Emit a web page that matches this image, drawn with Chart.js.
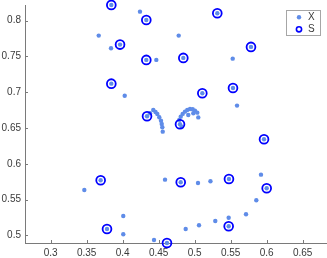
<!DOCTYPE html>
<html>
<head>
<meta charset="utf-8">
<script src="https://cdn.jsdelivr.net/npm/chart.js@4/dist/chart.umd.min.js"></script>
<style>
html,body{margin:0;padding:0;background:#fff;}
canvas{display:block;}
</style>
</head>
<body>
<canvas id="c" width="327" height="258"></canvas>
<script>
// Series "X": all points (x, y)
const xSeriesX = [
  0.3842,0.4328,0.5314,0.3963,0.4328,0.4842,0.5782,0.3842,0.5532,0.5106,
  0.4338,0.4796,0.5963,0.3694,0.4806,0.5476,0.6000,0.3782,0.5472,0.4615,
  0.3667,0.4240,0.3838,0.4778,0.4467,0.5528,0.4028,0.5588,0.5050,
  0.4379,0.4425,0.4456,0.4481,0.4508,0.4532,0.4542,0.4550,0.4556,
  0.4786,0.4806,0.4833,0.4865,0.4897,0.4935,0.4972,0.5004,0.5036,0.4981,0.4911,0.4819,
  0.4588,0.5046,0.5219,0.5921,0.3467,0.5856,0.5713,0.5472,0.5286,0.5060,0.4875,
  0.4008,0.4008,0.4435
];
const xSeriesY = [
  0.8220,0.8011,0.8105,0.7666,0.7452,0.7480,0.7634,0.7120,0.7060,0.6986,
  0.6664,0.6552,0.6343,0.5769,0.5741,0.5787,0.5657,0.5088,0.5126,0.4892,
  0.7792,0.8127,0.7615,0.7792,0.7452,0.7470,0.6952,0.6813,0.6648,
  0.6706,0.6752,0.6724,0.6696,0.6650,0.6603,0.6557,0.6510,0.6449,
  0.6613,0.6659,0.6697,0.6729,0.6752,0.6766,0.6762,0.6743,0.6715,0.6706,0.6682,0.6519,
  0.5778,0.5731,0.5755,0.5848,0.5634,0.5490,0.5294,0.5246,0.5200,0.5140,0.5088,
  0.5270,0.5014,0.4934
];
// Series "S": selected points
const sSeriesX = [
  0.3842,0.4328,0.5314,0.3963,0.4328,0.4842,0.5782,0.3842,0.5532,0.5106,
  0.4338,0.4796,0.5963,0.3694,0.4806,0.5476,0.6000,0.3782,0.5472,0.4615
];
const sSeriesY = [
  0.8220,0.8011,0.8105,0.7666,0.7452,0.7480,0.7634,0.7120,0.7060,0.6986,
  0.6664,0.6552,0.6343,0.5769,0.5741,0.5787,0.5657,0.5088,0.5126,0.4892
];
const xTicks = [0.3,0.35,0.4,0.45,0.5,0.55,0.6,0.65];
const yTicks = [0.5,0.55,0.6,0.65,0.7,0.75,0.8];
const legendLabels = ['X','S'];

const dotColor = 'rgb(95,140,232)';
const ringColor = '#0000ff';
const axisColor = '#7a7a7a';
const textColor = '#3a3a3a';
const fontFam = "'Liberation Sans', Arial, sans-serif";

const ptsX = xSeriesX.map((v,i)=>({x:v,y:xSeriesY[i]}));
const ptsS = sSeriesX.map((v,i)=>({x:v,y:sSeriesY[i]}));

const tickPlugin = {
  id:'inTicks',
  afterDraw(chart){
    const ctx = chart.ctx, xs = chart.scales.x, ys = chart.scales.y, a = chart.chartArea;
    ctx.save();
    ctx.strokeStyle = axisColor; ctx.lineWidth = 1;
    ctx.beginPath();
    xTicks.forEach(v=>{const p=Math.round(xs.getPixelForValue(v))+0.5; ctx.moveTo(p,a.bottom); ctx.lineTo(p,a.bottom-3);});
    yTicks.forEach(v=>{const p=Math.round(ys.getPixelForValue(v))+0.5; ctx.moveTo(a.left,p); ctx.lineTo(a.left+3,p);});
    ctx.stroke();
    // legend box
    const bx=286.5, by=10.5, bw=34, bh=25;
    ctx.fillStyle='#fff'; ctx.fillRect(bx,by,bw,bh);
    ctx.strokeStyle='#a6a6a6'; ctx.strokeRect(bx,by,bw,bh);
    ctx.fillStyle=dotColor; ctx.beginPath(); ctx.arc(299,17.3,2.2,0,Math.PI*2); ctx.fill();
    ctx.strokeStyle=ringColor; ctx.lineWidth=1.6; ctx.beginPath(); ctx.arc(299,29.3,2.6,0,Math.PI*2); ctx.stroke();
    ctx.fillStyle=textColor; ctx.font='10px '+fontFam; ctx.textBaseline='middle'; ctx.textAlign='left';
    ctx.fillText(legendLabels[0],308,17.5);
    ctx.fillText(legendLabels[1],308,29.5);
    ctx.restore();
  }
};

new Chart(document.getElementById('c'),{
  type:'scatter',
  data:{datasets:[
    {label:legendLabels[0], data:ptsX, order:2, clip:false, pointRadius:2.2, pointHoverRadius:2.2,
     pointBackgroundColor:dotColor, pointBorderColor:dotColor, pointBorderWidth:0},
    {label:legendLabels[1], data:ptsS, order:1, clip:false, pointRadius:4.4, pointHoverRadius:4.4,
     pointBackgroundColor:'rgba(0,0,0,0)', pointBorderColor:ringColor, pointBorderWidth:1.8}
  ]},
  options:{
    responsive:false, animation:false,
    layout:{autoPadding:false, padding:{left:0,right:1,top:5,bottom:0}},
    plugins:{legend:{display:false}, tooltip:{enabled:false}},
    scales:{
      x:{type:'linear', min:0.2643, max:0.6824,
         afterBuildTicks:s=>{s.ticks=xTicks.map(v=>({value:v}));},
         afterFit:s=>{s.height=15; s.paddingLeft=0; s.paddingRight=0;},
         grid:{display:false, drawTicks:false},
         border:{display:true,color:axisColor,width:1},
         ticks:{color:textColor,font:{family:fontFam,size:10},padding:4,maxRotation:0,autoSkip:false,
                callback:v=>String(+(+v).toFixed(2))}},
      y:{type:'linear', min:0.4892, max:0.822,
         afterBuildTicks:s=>{s.ticks=yTicks.map(v=>({value:v}));},
         afterFit:s=>{s.width=25; s.paddingTop=0; s.paddingBottom=0;},
         grid:{display:false, drawTicks:false},
         border:{display:true,color:axisColor,width:1},
         ticks:{color:textColor,font:{family:fontFam,size:10},padding:4,autoSkip:false,
                callback:v=>String(+(+v).toFixed(2))}}
    }
  },
  plugins:[tickPlugin]
});
</script>
</body>
</html>
